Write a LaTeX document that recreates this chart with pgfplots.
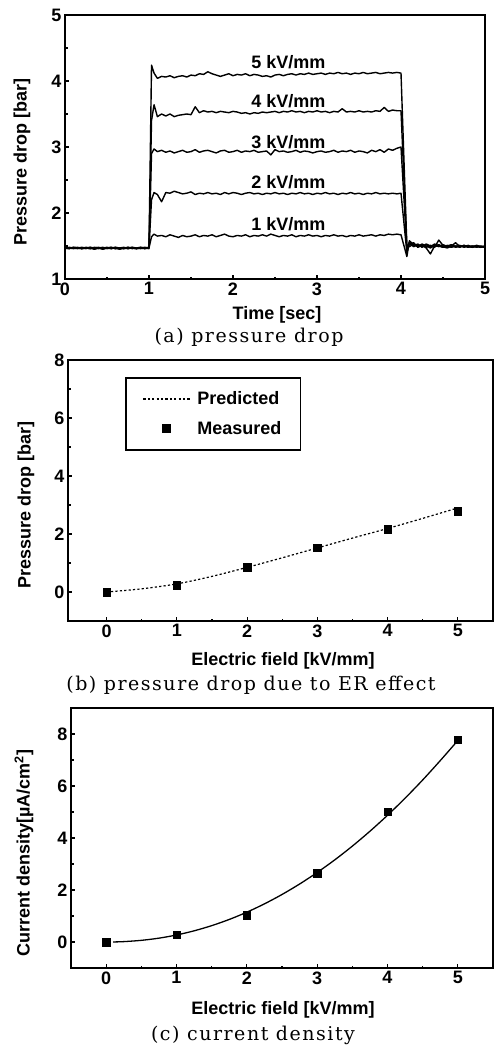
\documentclass[border=0pt]{standalone}
\usepackage{fontspec}
\setmainfont{Liberation Sans}
\newfontfamily\capfont[LetterSpace=8]{DejaVu Serif}
\usepackage{pgfplots}
\usepackage{pgfplotstable}
\pgfplotsset{compat=1.18}

\newcommand\sansb{\fontsize{18}{20}\selectfont\bfseries}
\newcommand\capsize{\fontsize{19}{21}\selectfont\capfont}

% pressure drop traces for 1..5 kV/mm
\pgfplotstableread{
t    v1   v2   v3   v4   v5
0.00 1.47 1.46 1.48 1.47 1.46
0.05 1.46 1.48 1.47 1.46 1.47
0.10 1.48 1.47 1.46 1.48 1.47
0.15 1.47 1.46 1.47 1.47 1.48
0.20 1.46 1.47 1.48 1.46 1.46
0.25 1.48 1.46 1.47 1.47 1.47
0.30 1.47 1.48 1.46 1.48 1.46
0.35 1.45 1.47 1.47 1.46 1.48
0.40 1.47 1.46 1.48 1.47 1.47
0.45 1.48 1.47 1.46 1.45 1.46
0.50 1.46 1.48 1.47 1.47 1.47
0.55 1.47 1.46 1.48 1.48 1.46
0.60 1.48 1.47 1.46 1.46 1.48
0.65 1.46 1.45 1.47 1.47 1.47
0.70 1.47 1.47 1.48 1.46 1.46
0.75 1.48 1.46 1.46 1.48 1.47
0.80 1.46 1.48 1.47 1.47 1.48
0.85 1.47 1.47 1.46 1.46 1.46
0.90 1.48 1.46 1.48 1.47 1.47
0.95 1.46 1.47 1.47 1.48 1.46
1.00 1.47 1.48 1.46 1.47 1.48
1.03 1.64 2.20 2.90 3.40 4.24
1.06 1.68 2.31 2.97 3.64 4.12
1.10 1.65 2.28 2.93 3.46 4.04
1.15 1.66 2.17 2.95 3.50 4.07
1.20 1.64 2.31 2.92 3.47 4.06
1.25 1.67 2.30 2.94 3.50 4.08
1.30 1.65 2.33 2.91 3.46 4.05
1.35 1.63 2.31 2.93 3.48 4.07
1.40 1.66 2.29 2.95 3.49 4.08
1.45 1.64 2.30 2.92 3.50 4.06
1.50 1.65 2.32 2.93 3.49 4.09
1.55 1.67 2.28 2.96 3.61 4.08
1.60 1.64 2.30 2.92 3.52 4.11
1.65 1.66 2.29 2.94 3.55 4.10
1.70 1.65 2.31 2.95 3.53 4.14
1.75 1.67 2.29 2.93 3.54 4.11
1.80 1.64 2.30 2.91 3.52 4.09
1.85 1.66 2.28 2.94 3.54 4.07
1.90 1.68 2.31 2.95 3.53 4.09
1.95 1.65 2.29 2.92 3.52 4.11
2.00 1.64 2.31 2.93 3.54 4.08
2.05 1.66 2.30 2.95 3.53 4.10
2.10 1.65 2.28 2.92 3.51 4.09
2.15 1.67 2.30 2.94 3.52 4.11
2.20 1.64 2.31 2.93 3.50 4.08
2.25 1.66 2.29 2.95 3.52 4.10
2.30 1.65 2.30 2.92 3.51 4.09
2.35 1.67 2.28 2.93 3.53 4.07
2.40 1.65 2.30 2.94 3.52 4.08
2.45 1.68 2.29 2.88 3.53 4.06
2.50 1.66 2.31 2.96 3.54 4.09
2.55 1.64 2.29 2.93 3.52 4.10
2.60 1.66 2.30 2.94 3.54 4.08
2.65 1.65 2.28 2.92 3.53 4.10
2.70 1.67 2.30 2.93 3.55 4.11
2.75 1.64 2.29 2.95 3.53 4.09
2.80 1.66 2.31 2.92 3.54 4.11
2.85 1.65 2.29 2.94 3.52 4.10
2.90 1.67 2.30 2.93 3.54 4.12
2.95 1.65 2.28 2.91 3.53 4.10
3.00 1.66 2.30 2.93 3.55 4.11
3.05 1.64 2.29 2.94 3.53 4.12
3.10 1.66 2.31 2.92 3.54 4.10
3.15 1.65 2.29 2.93 3.52 4.12
3.20 1.67 2.30 2.95 3.54 4.11
3.25 1.65 2.28 2.92 3.53 4.13
3.30 1.66 2.30 2.94 3.58 4.11
3.35 1.64 2.29 2.93 3.53 4.12
3.40 1.66 2.31 2.95 3.54 4.10
3.45 1.65 2.29 2.92 3.53 4.12
3.50 1.67 2.30 2.94 3.55 4.11
3.55 1.65 2.28 2.93 3.53 4.13
3.60 1.66 2.30 2.91 3.54 4.11
3.65 1.67 2.29 2.95 3.53 4.12
3.70 1.65 2.31 2.93 3.55 4.13
3.75 1.67 2.29 2.96 3.54 4.11
3.80 1.66 2.30 2.92 3.60 4.12
3.85 1.68 2.29 2.97 3.54 4.13
3.90 1.67 2.30 2.95 3.56 4.12
3.95 1.68 2.29 2.98 3.55 4.13
4.00 1.67 2.30 3.00 3.55 4.12
4.07 1.34 1.40 1.44 1.47 1.50
4.10 1.58 1.56 1.52 1.55 1.49
4.15 1.52 1.50 1.55 1.49 1.53
4.20 1.49 1.53 1.48 1.52 1.50
4.25 1.53 1.48 1.51 1.49 1.52
4.30 1.50 1.52 1.47 1.53 1.48
4.35 1.47 1.49 1.38 1.50 1.51
4.40 1.51 1.53 1.50 1.48 1.49
4.45 1.49 1.50 1.52 1.59 1.51
4.50 1.52 1.48 1.49 1.51 1.48
4.55 1.49 1.51 1.47 1.50 1.50
4.60 1.51 1.49 1.50 1.52 1.48
4.65 1.48 1.50 1.55 1.49 1.50
4.70 1.50 1.48 1.49 1.51 1.49
4.75 1.49 1.51 1.50 1.48 1.51
4.80 1.51 1.49 1.48 1.50 1.49
4.85 1.48 1.50 1.50 1.49 1.48
4.90 1.50 1.48 1.49 1.51 1.50
4.95 1.49 1.50 1.48 1.49 1.49
5.00 1.48 1.49 1.50 1.48 1.49
}\pressure

% ER pressure drop: prediction and measurement
\pgfplotstableread{
E   dp
0.0 0.00
0.5 0.11
1.0 0.28
1.5 0.54
2.0 0.85
2.5 1.18
3.0 1.52
3.5 1.86
4.0 2.19
4.5 2.54
5.0 2.90
}\predicted
\pgfplotstableread{
E dp
0 0.00
1 0.24
2 0.85
3 1.52
4 2.16
5 2.78
}\measured

% current density: fitted curve and measurement
\pgfplotstableread{
E    j
0.10 0.002
0.25 0.015
0.50 0.064
0.75 0.148
1.00 0.270
1.25 0.430
1.50 0.629
1.75 0.868
2.00 1.147
2.25 1.467
2.50 1.828
2.75 2.230
3.00 2.674
3.25 3.159
3.50 3.688
3.75 4.260
4.00 4.874
4.25 5.532
4.50 6.232
4.75 6.977
5.00 7.750
}\jfit
\pgfplotstableread{
E j
0 0.00
1 0.27
2 1.03
3 2.64
4 5.01
5 7.77
}\jmeas

\pgfplotsset{
  every axis/.append style={
    scale only axis,
    axis line style={line width=1.6pt},
    every tick/.style={black, line width=1.2pt},
    major tick length=4pt,
    minor tick length=2.5pt,
    tick pos=left,
    tick align=inside,
    minor x tick num=1,
    minor y tick num=1,
    tick label style={font=\sansb},
    /pgf/number format/assume math mode=true,
  },
  trace/.style={black, line width=1.4pt, line join=round},
  meas/.style={only marks, mark=square*, mark size=3.7pt, mark options={black, fill=black}},
  long line legend/.style={legend image code/.code={%
      \path[draw=none, fill=none] (0pt,0pt) -- (52pt,0pt);
      \draw[##1] (0pt,0pt) -- (47pt,0pt);}},
  long mark legend/.style={legend image code/.code={%
      \path[draw=none, fill=none] (0pt,0pt) -- (52pt,0pt);
      \draw[##1, mark repeat=2, mark phase=2] plot coordinates {(0pt,0pt) (23.5pt,0pt) (47pt,0pt)};}},
}

\begin{document}
\begin{tikzpicture}
\useasboundingbox (0,0) rectangle (496pt,-1046pt);

% (a) pressure drop vs time
\begin{axis}[at={(65pt,-279pt)}, anchor=south west, width=420pt, height=264pt,
  xmin=0, xmax=5, ymin=1, ymax=5, xtick={0,...,5}, ytick={1,...,5}]
\addplot[trace] table[x=t, y=v1] {\pressure};
\addplot[trace] table[x=t, y=v2] {\pressure};
\addplot[trace] table[x=t, y=v3] {\pressure};
\addplot[trace] table[x=t, y=v4] {\pressure};
\addplot[trace] table[x=t, y=v5] {\pressure};
\node[font=\sansb] at (axis cs:2.66,4.28) {5 kV/mm};
\node[font=\sansb] at (axis cs:2.66,3.70) {4 kV/mm};
\node[font=\sansb] at (axis cs:2.66,3.07) {3 kV/mm};
\node[font=\sansb] at (axis cs:2.66,2.47) {2 kV/mm};
\node[font=\sansb] at (axis cs:2.66,1.83) {1 kV/mm};
\end{axis}
\node[font=\sansb, rotate=90] at (22pt,-162pt) {Pressure drop [bar]};
\node[font=\sansb] at (277pt,-315pt) {Time [sec]};
\node[font=\capsize] at (249pt,-337pt) {(a) pressure drop};

% (b) pressure drop due to ER effect
\begin{axis}[at={(68pt,-621pt)}, anchor=south west, width=425pt, height=261pt,
  xmin=-0.55, xmax=5.5, ymin=-1, ymax=8, xtick={0,...,5}, ytick={0,2,...,8},
  legend cell align=left,
  legend style={at={(rel axis cs:0.134,0.935)}, anchor=north west,
    line width=1.6pt, font=\sansb, inner xsep=17pt, inner ysep=12pt,
    row sep=11pt}]
\addplot[black, line width=1.2pt, dash pattern=on 2.2pt off 2.2pt, smooth,
  long line legend] table[x=E, y=dp] {\predicted};
\addlegendentry{Predicted}
\addplot[meas, long mark legend] table[x=E, y=dp] {\measured};
\addlegendentry{Measured}
\end{axis}
\node[font=\sansb, rotate=90] at (26pt,-505pt) {Pressure drop [bar]};
\node[font=\sansb] at (283pt,-661pt) {Electric field [kV/mm]};
\node[font=\capsize] at (251pt,-685pt) {(b) pressure drop due to ER effect};

% (c) current density
\begin{axis}[at={(71pt,-968pt)}, anchor=south west, width=422pt, height=260pt,
  xmin=-0.5, xmax=5.5, ymin=-1, ymax=9, xtick={0,...,5}, ytick={0,2,...,8}]
\addplot[black, line width=1.3pt, smooth] table[x=E, y=j] {\jfit};
\addplot[meas] table[x=E, y=j] {\jmeas};
\end{axis}
\node[font=\sansb, rotate=90] at (24pt,-853pt) {Current density[µA/cm\textsuperscript{2}]};
\node[font=\sansb] at (283pt,-1010pt) {Electric field [kV/mm]};
\node[font=\capsize] at (253pt,-1035pt) {(c) current density};
\end{tikzpicture}
\end{document}
